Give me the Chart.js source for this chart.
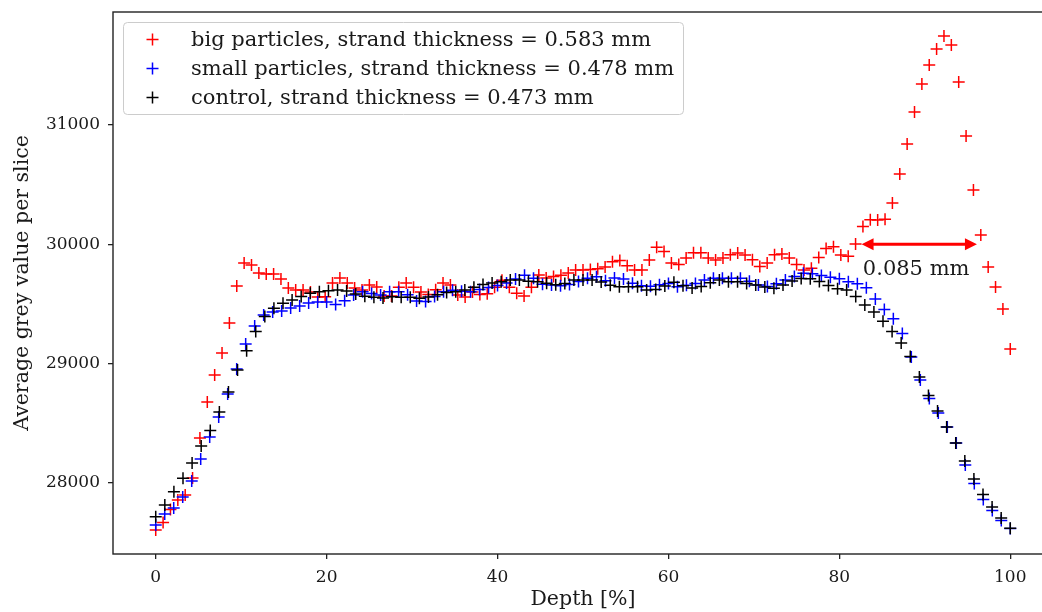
<!DOCTYPE html>
<html><head><meta charset="utf-8">
<script src="https://cdn.jsdelivr.net/npm/chart.js@4.4.0/dist/chart.umd.min.js"></script>
<style>
html,body{margin:0;padding:0;background:#fff;overflow:hidden;width:1042px;height:612px}
canvas{position:absolute;left:0;top:0}
</style></head>
<body><canvas id="c" width="1042" height="612"></canvas>
<script>
// Average grey value per slice (slices evenly spread over depth 0..100 %)
const bigParticles = [27606,27670,27778,27858,27900,28042,28377,28679,28905,29089,29341,29651,29844,29827,29760,29751,29751,29709,29634,29617,
29617,29600,29559,29560,29676,29718,29676,29634,29617,29660,29642,29567,29567,29640,29676,29640,29600,29580,29620,29676,
29660,29575,29559,29600,29580,29585,29640,29700,29640,29590,29567,29640,29743,29718,29730,29740,29760,29785,29785,29790,
29795,29810,29855,29865,29820,29785,29785,29869,29975,29940,29843,29830,29886,29930,29930,29886,29869,29886,29912,29927,
29910,29870,29815,29843,29912,29920,29885,29830,29785,29800,29890,29965,29980,29910,29900,30003,30149,30207,30204,30210,
30346,30589,30841,31109,31344,31503,31637,31746,31670,31360,30908,30455,30078,29810,29642,29458,29123];
const smallParticles = [27648,27740,27790,27883,28017,28201,28385,28553,28746,28955,29165,29316,29408,29433,29441,29467,29483,29508,29517,29517,
29496,29528,29575,29603,29588,29575,29603,29603,29578,29525,29520,29563,29603,29616,29606,29603,29622,29638,29655,29676,
29710,29740,29715,29665,29659,29652,29664,29689,29715,29728,29695,29718,29710,29674,29652,29649,29661,29671,29645,29657,
29672,29701,29715,29715,29715,29715,29690,29659,29647,29670,29701,29731,29757,29754,29738,29724,29711,29687,29669,29636,
29542,29454,29376,29253,29056,28863,28708,28587,28469,28335,28151,27996,27862,27770,27686,27619];
const control = [27718,27816,27927,28039,28168,28310,28440,28595,28763,28947,29109,29270,29395,29464,29506,29534,29563,29590,29603,29611,
29617,29609,29584,29565,29557,29550,29560,29556,29556,29549,29559,29577,29596,29603,29617,29641,29663,29676,29687,29701,
29701,29691,29687,29674,29661,29672,29701,29701,29701,29684,29657,29645,29645,29644,29617,29622,29651,29682,29652,29634,
29646,29678,29701,29687,29687,29672,29659,29642,29632,29659,29693,29714,29711,29689,29655,29627,29617,29563,29492,29433,
29355,29270,29173,29060,28888,28733,28603,28469,28335,28184,28034,27904,27799,27707,27620];

const seriesLabels = ['big particles, strand thickness = 0.583 mm','small particles, strand thickness = 0.478 mm','control, strand thickness = 0.473 mm'];
const seriesColors = ['#ff0000','#0000ff','#000000'];
const xTicks = [0,20,40,60,80,100];
const yTicks = [28000,29000,30000,31000];
const xRange = [-5,105];
const yRange = [27405,31947];
const xTitle = 'Depth [%]', yTitle = 'Average grey value per slice';
// annotation: double arrow at grey value 30000 between these depths
const arrowFrom = 82.6, arrowTo = 96.1, arrowLevel = 30000;
const noteText = '0.085 mm', noteDepth = 82.75, noteLevel = 29790;

const FONT = "'DejaVu Serif', serif";
const TEXT = '#1a1a1a';
const PLOT_OVERHANG = 11; // the plot frame runs past the right edge of the picture
const toPoints = arr => arr.map((v,i)=>({x: i*100/(arr.length-1), y: v}));

const datasets = [bigParticles, smallParticles, control].map((arr,i)=>({
  label: seriesLabels[i], data: toPoints(arr), showLine:false,
  pointStyle:'cross', pointRadius:6, pointHoverRadius:6, pointBorderWidth:1.5,
  borderColor:seriesColors[i], backgroundColor:seriesColors[i], order: 3-i
}));

const extras = {
  id:'extras',
  afterLayout(chart){
    const xs=chart.scales.x, ca=chart.chartArea, R=chart.width+PLOT_OVERHANG;
    xs.right=R; xs.width=R-xs.left;
    ca.right=R; ca.width=R-ca.left;
    xs.configure();
  },
  beforeDraw(chart){
    const c=chart.ctx; c.save(); c.fillStyle='#fff'; c.fillRect(0,0,chart.width,chart.height); c.restore();
  },
  afterDraw(chart){
    const c=chart.ctx, a=chart.chartArea, xs=chart.scales.x, ys=chart.scales.y;
    c.save();
    // frame
    c.strokeStyle='#222'; c.lineWidth=1.4;
    c.strokeRect(a.left, a.top, a.right-a.left, a.bottom-a.top);
    // arrow
    const x1=xs.getPixelForValue(arrowFrom), x2=xs.getPixelForValue(arrowTo), y=ys.getPixelForValue(arrowLevel);
    const hl=12, hw=6;
    c.strokeStyle='#ff0000'; c.fillStyle='#ff0000'; c.lineWidth=3;
    c.beginPath(); c.moveTo(x1+hl-2,y); c.lineTo(x2-hl+2,y); c.stroke();
    c.beginPath(); c.moveTo(x1,y); c.lineTo(x1+hl,y-hw); c.lineTo(x1+hl,y+hw); c.closePath(); c.fill();
    c.beginPath(); c.moveTo(x2,y); c.lineTo(x2-hl,y-hw); c.lineTo(x2-hl,y+hw); c.closePath(); c.fill();
    c.fillStyle=TEXT; c.font='21px '+FONT; c.textAlign='left'; c.textBaseline='middle';
    c.fillText(noteText, xs.getPixelForValue(noteDepth), ys.getPixelForValue(noteLevel));
    // legend
    const lx=123.5, ly=22.5, lw=560, lh=92, r=4;
    c.beginPath();
    c.moveTo(lx+r,ly); c.lineTo(lx+lw-r,ly); c.quadraticCurveTo(lx+lw,ly,lx+lw,ly+r);
    c.lineTo(lx+lw,ly+lh-r); c.quadraticCurveTo(lx+lw,ly+lh,lx+lw-r,ly+lh);
    c.lineTo(lx+r,ly+lh); c.quadraticCurveTo(lx,ly+lh,lx,ly+lh-r);
    c.lineTo(lx,ly+r); c.quadraticCurveTo(lx,ly,lx+r,ly); c.closePath();
    c.fillStyle='rgba(255,255,255,0.85)'; c.fill();
    c.strokeStyle='#cccccc'; c.lineWidth=1; c.stroke();
    seriesLabels.forEach((t,i)=>{
      const yy=39.5+29*i, xx=152.5;
      c.strokeStyle=seriesColors[i]; c.lineWidth=1.5;
      c.beginPath(); c.moveTo(xx-6,yy); c.lineTo(xx+6,yy); c.moveTo(xx,yy-6); c.lineTo(xx,yy+6); c.stroke();
      c.fillStyle=TEXT; c.font='21px '+FONT; c.textAlign='left'; c.textBaseline='middle';
      c.fillText(t, 191, yy+1);
    });
    c.restore();
  }
};

const axisCommon = {
  type:'linear',
  grid:{drawOnChartArea:false, drawTicks:true, tickLength:5, color:'#222', lineWidth:1.3},
  border:{display:false},
};

new Chart(document.getElementById('c'), {
  type:'scatter',
  data:{datasets},
  options:{
    responsive:false, animation:false, devicePixelRatio:1,
    layout:{padding:{top:12,right:0,left:0,bottom:0}},
    plugins:{legend:{display:false}, tooltip:{enabled:false}},
    events:[],
    scales:{
      x:{...axisCommon, min:xRange[0], max:xRange[1],
        afterBuildTicks:s=>{s.ticks=xTicks.map(v=>({value:v}));},
        afterFit:s=>{s.height=58; s.paddingLeft=0; s.paddingRight=0;},
        ticks:{font:{family:FONT,size:17}, color:TEXT, padding:8, maxRotation:0, autoSkip:false, callback:v=>String(v)},
        title:{display:true, text:xTitle, font:{family:FONT,size:20.5}, color:TEXT, padding:{top:0,bottom:0}}
      },
      y:{...axisCommon, min:yRange[0], max:yRange[1],
        afterBuildTicks:s=>{s.ticks=yTicks.map(v=>({value:v}));},
        afterFit:s=>{s.width=113; s.paddingTop=0; s.paddingBottom=0;},
        ticks:{font:{family:FONT,size:17}, color:TEXT, padding:8, autoSkip:false, callback:v=>String(v)},
        title:{display:true, text:yTitle, font:{family:FONT,size:20.5}, color:TEXT, padding:{top:10,bottom:0}}
      }
    }
  },
  plugins:[extras]
});
</script>
</body></html>
